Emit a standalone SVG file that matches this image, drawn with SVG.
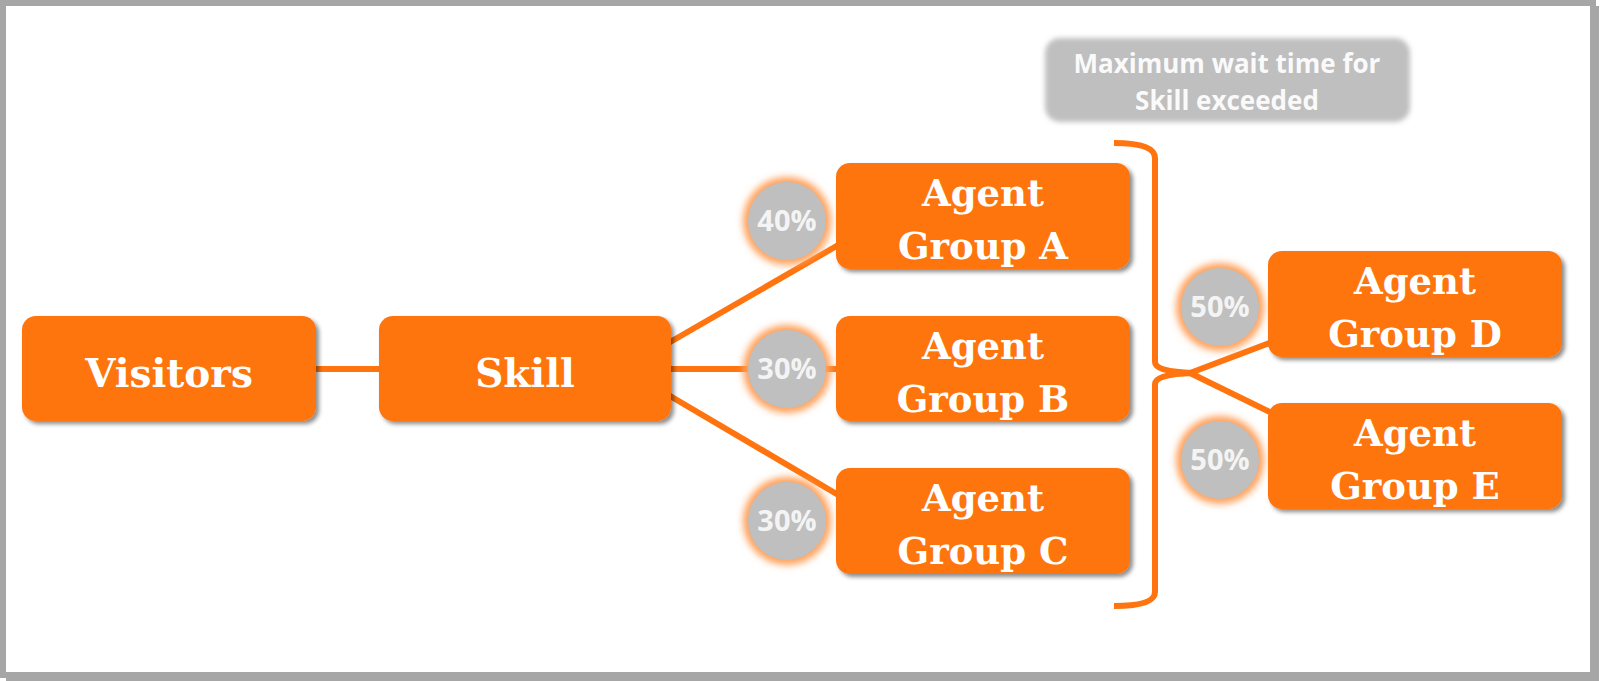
<svg xmlns="http://www.w3.org/2000/svg" width="1600" height="681" viewBox="0 0 1600 681">
<defs>
<filter id="shadow" x="-10%" y="-10%" width="125%" height="130%">
<feDropShadow dx="3" dy="3" stdDeviation="2" flood-color="#000" flood-opacity="0.45"/>
</filter>
<filter id="glow" x="-30%" y="-30%" width="160%" height="160%">
<feGaussianBlur stdDeviation="3.5"/>
</filter>
<filter id="soft" x="-10%" y="-20%" width="120%" height="140%">
<feGaussianBlur stdDeviation="2.5"/>
</filter>
<style>
.node{fill:#ff740e;filter:url(#shadow)}
.nt{font-family:"DejaVu Serif","Liberation Serif",serif;font-weight:bold;fill:#fff;text-anchor:middle}
.big{font-size:39px}
.mid{font-size:37px}
.conn{stroke:#ff740e;stroke-width:6;fill:none}
.halo{fill:#ffa15c;filter:url(#glow)}
.badge{fill:#bfbfbf}
.pt{font-family:"Open Sans","Liberation Sans",sans-serif;font-weight:bold;font-size:29px;fill:#f4f4f4;text-anchor:middle}
.note{font-family:"Open Sans","Liberation Sans",sans-serif;font-weight:bold;font-size:26px;fill:#fafafa;text-anchor:middle}
</style>
</defs>
<rect x="0" y="0" width="1600" height="681" fill="#fff"/>
<rect x="3" y="3" width="1590" height="672" fill="none" stroke="#a6a6a6" stroke-width="6"/>
<path d="M1596,6 V678 H6" fill="none" stroke="#a6a6a6" stroke-width="6"/>

<g id="connectors">
<line class="conn" x1="310" y1="369" x2="385" y2="369"/>
<line class="conn" x1="665" y1="345" x2="840" y2="244"/>
<line class="conn" x1="665" y1="369" x2="840" y2="369"/>
<line class="conn" x1="665" y1="393" x2="840" y2="496"/>
<path class="conn" d="M1114,143 Q1155,143 1155,158 L1155,362 Q1155,372 1193,373 Q1155,374 1155,384 L1155,592 Q1155,606 1114,606"/>
<line class="conn" x1="1190" y1="373" x2="1272" y2="342"/>
<line class="conn" x1="1190" y1="373" x2="1272" y2="413"/>
</g>

<g id="note">
<rect x="1045" y="38" width="365" height="84" rx="15" fill="#bfbfbf" filter="url(#soft)"/>
<text class="note" x="1227" y="73">Maximum wait time for</text>
<text class="note" x="1227" y="110">Skill exceeded</text>
</g>

<g id="visitors">
<rect class="node" x="22" y="316" width="294" height="105" rx="14"/>
<text class="nt big" x="169" y="387">Visitors</text>
</g>
<g id="skill">
<rect class="node" x="379" y="316" width="292" height="105" rx="14"/>
<text class="nt big" x="525" y="387">Skill</text>
</g>
<g id="groupA">
<rect class="node" x="836" y="163" width="294" height="106" rx="14"/>
<text class="nt mid" x="983" y="206">Agent</text>
<text class="nt mid" x="983" y="259">Group A</text>
</g>
<g id="groupB">
<rect class="node" x="836" y="316" width="294" height="105" rx="14"/>
<text class="nt mid" x="983" y="359">Agent</text>
<text class="nt mid" x="983" y="412">Group B</text>
</g>
<g id="groupC">
<rect class="node" x="836" y="468" width="294" height="106" rx="14"/>
<text class="nt mid" x="983" y="511">Agent</text>
<text class="nt mid" x="983" y="564">Group C</text>
</g>
<g id="groupD">
<rect class="node" x="1268" y="251" width="294" height="106" rx="14"/>
<text class="nt mid" x="1415" y="294">Agent</text>
<text class="nt mid" x="1415" y="347">Group D</text>
</g>
<g id="groupE">
<rect class="node" x="1268" y="403" width="294" height="106" rx="14"/>
<text class="nt mid" x="1415" y="446">Agent</text>
<text class="nt mid" x="1415" y="499">Group E</text>
</g>

<g id="labels">
<g id="pctA">
<circle class="halo" cx="787" cy="221" r="44"/>
<circle class="badge" cx="787" cy="221" r="39"/>
<text class="pt" x="787" y="231">40%</text>
</g>
<g id="pctB">
<circle class="halo" cx="787" cy="369" r="44"/>
<circle class="badge" cx="787" cy="369" r="39"/>
<text class="pt" x="787" y="379">30%</text>
</g>
<g id="pctC">
<circle class="halo" cx="787" cy="521" r="44"/>
<circle class="badge" cx="787" cy="521" r="39"/>
<text class="pt" x="787" y="531">30%</text>
</g>
<g id="pctD">
<circle class="halo" cx="1220" cy="307" r="44"/>
<circle class="badge" cx="1220" cy="307" r="39"/>
<text class="pt" x="1220" y="317">50%</text>
</g>
<g id="pctE">
<circle class="halo" cx="1220" cy="460" r="44"/>
<circle class="badge" cx="1220" cy="460" r="39"/>
<text class="pt" x="1220" y="470">50%</text>
</g>
</g>
</svg>
